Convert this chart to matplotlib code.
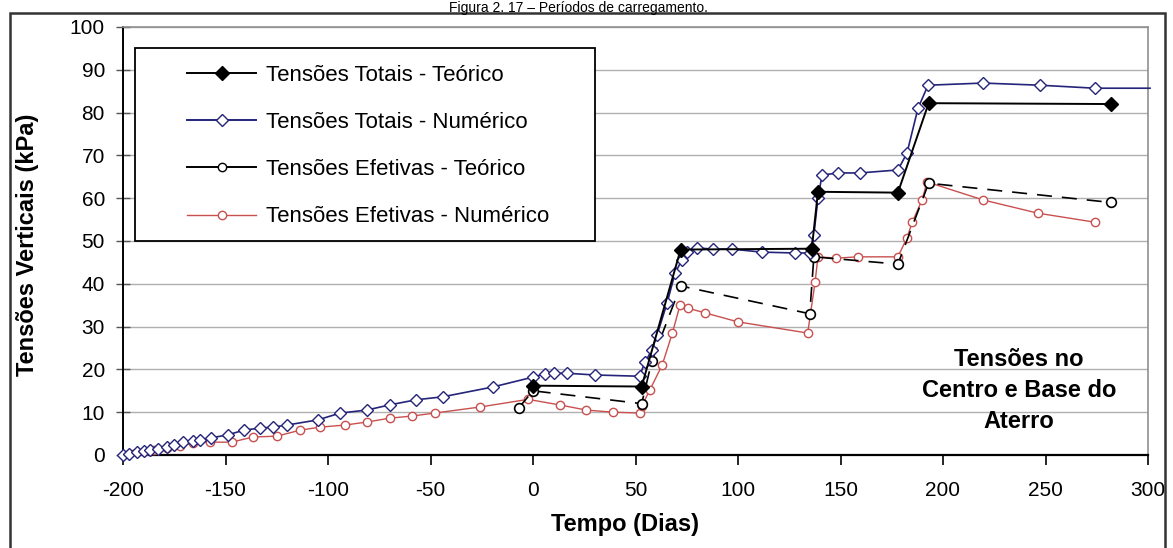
import matplotlib
matplotlib.use("Agg")
import matplotlib.pyplot as plt
from matplotlib.lines import Line2D
from matplotlib.patches import Rectangle

plt.rcParams['font.family'] = ['Liberation Sans Narrow', 'Liberation Sans', 'DejaVu Sans']
plt.rcParams['axes.unicode_minus'] = False

# Tensões Totais - Teórico
tot_teo_x = [0, 53, 72, 136, 139, 178, 193, 282]
tot_teo_y = [16.2, 16.0, 48.0, 48.2, 61.5, 61.3, 82.2, 82.0]

# Tensões Totais - Numérico
tot_num_x = [-200, -197, -193, -190, -186.8, -183, -178.5, -175, -170.7, -166, -162.4,
             -157, -149, -141, -133, -127, -120, -105, -94, -81, -70, -57, -44, -19.5,
             0, 6, 10, 16.6, 30, 52, 54.6, 58, 60.5, 65.4, 69.3, 72.7, 75, 80, 87.8, 97,
             111.7, 127.8, 135, 137, 139, 141, 148.8, 159.5, 178, 182.4, 187.8, 192.7,
             219.5, 247.3, 274, 301]
tot_num_y = [0, 0.3, 0.6, 0.9, 1.2, 1.5, 1.9, 2.4, 3.0, 3.2, 3.5,
             4.0, 4.7, 5.8, 6.3, 6.5, 7.0, 8.2, 9.8, 10.5, 11.7, 12.9, 13.6, 15.9,
             18.2, 19.0, 19.1, 19.1, 18.7, 18.4, 21.7, 24.5, 28.0, 35.5, 42.5, 45.6, 47.4, 48.4, 48.1, 48.1,
             47.4, 47.2, 47.2, 51.4, 60.0, 65.4, 65.9, 65.9, 66.6, 70.5, 81.0, 86.4,
             86.9, 86.4, 85.7, 85.7]

# Tensões Efetivas - Teórico
ef_teo_x = [-7, 0, 53, 58, 72, 135, 137, 178, 193, 282]
ef_teo_y = [11.0, 15.0, 12.0, 22.0, 39.5, 33.0, 46.3, 44.6, 63.5, 59.0]

# Tensões Efetivas - Numérico
ef_num_x = [-200, -198, -195, -190, -185, -178.5, -172, -166, -157.6, -147, -136.6,
            -125, -113.6, -104, -91.7, -81, -70, -59, -48, -26, -2.4, 13, 26, 39, 52,
            53, 57, 63, 68, 71.7, 75.6, 84, 100, 134, 137.6, 139, 148, 158.5, 178,
            182.4, 185, 189.8, 192.2, 219.5, 246.3, 274]
ef_num_y = [0, 0, 0.3, 0.8, 1.1, 1.6, 2.2, 2.8, 3.0, 3.0, 4.2,
            4.4, 5.8, 6.5, 7.0, 7.7, 8.6, 9.1, 9.8, 11.2, 13.0, 11.7, 10.5, 10.0, 9.8,
            11.4, 15.2, 21.0, 28.5, 35.0, 34.3, 33.2, 31.1, 28.5, 40.4, 46.3, 46.0, 46.3, 46.3,
            50.7, 54.4, 59.6, 63.8, 59.6, 56.5, 54.4]

labels = ['Tensões Totais - Teórico', 'Tensões Totais - Numérico',
          'Tensões Efetivas - Teórico', 'Tensões Efetivas - Numérico']

x_ticks = list(range(-200, 301, 50))
y_ticks = list(range(0, 101, 10))

blue = '#24247a'
red = '#c8504f'

fig = plt.figure(figsize=(11.73, 5.48), dpi=100)
ax = fig.add_axes([123 / 1173, 1 - 455 / 548, 1025 / 1173, 428 / 548])

ax.plot(ef_num_x, ef_num_y, color=red, lw=1.0, marker='o', ms=6,
        mfc='white', mec=red, mew=1.0, zorder=3)
ax.plot(ef_teo_x, ef_teo_y, color='black', lw=1.2, dashes=(9, 6), marker='o', ms=7,
        mfc='white', mec='black', mew=1.2, zorder=4)
ax.plot(tot_num_x, tot_num_y, color=blue, lw=1.2, marker='D', ms=6,
        mfc='white', mec=blue, mew=1.0, markevery=list(range(len(tot_num_x) - 1)),
        zorder=5, clip_on=False)
ax.plot(tot_teo_x, tot_teo_y, color='black', lw=1.4, marker='D', ms=7,
        mfc='black', mec='black', zorder=6)

ax.set_xlim(-200, 300)
ax.set_ylim(0, 100)
ax.set_xticks(x_ticks)
ax.set_yticks(y_ticks)
ax.tick_params(axis='x', direction='out', length=7, width=1.2, pad=12, labelsize=15)
ax.tick_params(axis='y', direction='inout', length=10, width=1.0, pad=8, labelsize=15,
               color='#555555')
ax.grid(axis='y', color='#b0b0b0', lw=1.0)
ax.set_axisbelow(True)
for side in ['top', 'right']:
    ax.spines[side].set_color('#909090')
    ax.spines[side].set_linewidth(1.2)
ax.spines['left'].set_linewidth(1.4)
ax.spines['bottom'].set_linewidth(1.6)

# legend
handles = [
    Line2D([], [], color='black', lw=1.4, marker='D', ms=7, mfc='black', mec='black'),
    Line2D([], [], color=blue, lw=1.4, marker='D', ms=6, mfc='white', mec=blue),
    Line2D([], [], color='black', lw=1.4, marker='o', ms=6, mfc='white', mec='black'),
    Line2D([], [], color=red, lw=1.0, marker='o', ms=6, mfc='white', mec=red),
]
leg = ax.legend(handles, labels, loc='upper left', bbox_to_anchor=(0.052, 0.938),
                frameon=False, fontsize=16, handlelength=3.1, handletextpad=0.45,
                labelspacing=1.18, borderpad=0.0)
ax.add_patch(Rectangle((12 / 1025, 214 / 428), 460 / 1025, 193 / 428,
                       transform=ax.transAxes, fill=True, facecolor='white',
                       edgecolor='black', lw=1.3, zorder=7))
leg.set_zorder(8)

ax.text(237, 15, 'Tensões no\nCentro e Base do\nAterro', ha='center', va='center',
        fontsize=17, fontweight='bold', linespacing=1.45, zorder=9)

fig.text(28 / 1173, 1 - 245 / 548, 'Tensões Verticais (kPa)', rotation=90,
         ha='center', va='center', fontsize=17, fontweight='bold')
fig.text(625 / 1173, 1 - 525 / 548, 'Tempo (Dias)', ha='center', va='center',
         fontsize=17, fontweight='bold')

fig.text(578 / 1173, 1 - 1 / 548, 'Figura 2. 17 – Períodos de carregamento.',
         ha='center', va='top', fontsize=10, family=['Liberation Sans', 'DejaVu Sans'])

fig.patches.append(Rectangle((10 / 1173, -0.05), 1155 / 1173, 1.05 - 13 / 548,
                             transform=fig.transFigure, fill=False,
                             edgecolor='#333333', lw=1.8))

fig.savefig('out.png', dpi=100)
